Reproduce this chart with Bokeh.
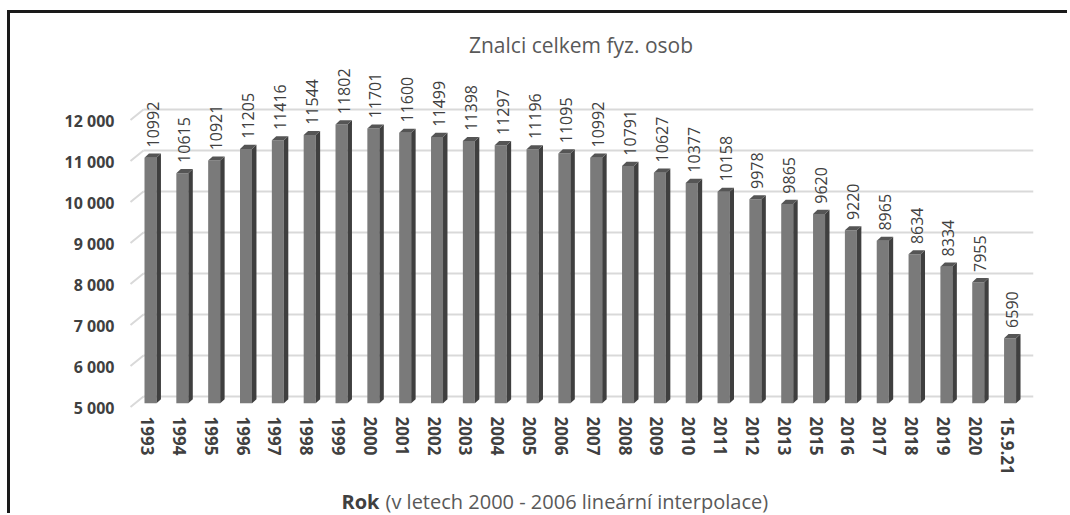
from bokeh.plotting import figure
from bokeh.models import Range1d, LinearAxis, FixedTicker
from bokeh.layouts import column
from bokeh.embed import file_html
from bokeh.resources import INLINE
from bokeh.core.properties import value

# ---- data ----
categories = ["1993", "1994", "1995", "1996", "1997", "1998", "1999", "2000",
              "2001", "2002", "2003", "2004", "2005", "2006", "2007", "2008",
              "2009", "2010", "2011", "2012", "2013", "2015", "2016", "2017",
              "2018", "2019", "2020", "15.9.21"]
counts = [10992, 10615, 10921, 11205, 11416, 11544, 11802, 11701,
          11600, 11499, 11398, 11297, 11196, 11095, 10992, 10791,
          10627, 10377, 10158, 9978, 9865, 9620, 9220, 8965,
          8634, 8334, 7955, 6590]
y_ticks = [5000, 6000, 7000, 8000, 9000, 10000, 11000, 12000]
y_tick_labels = ["5 000", "6 000", "7 000", "8 000", "9 000", "10 000", "11 000", "12 000"]

title_text = "Znalci celkem fyz. osob"
xtitle_bold = "Rok"
xtitle_rest = "(v letech 2000 - 2006 lineární interpolace)"

# ---- geometry / style constants ----
BASE = 5000
Y0, Y1 = 4850, 4850 + 349 / 0.041
X0, X1 = -0.597, 27.83
FRONT_OFF = 0.094   # front face centre offset from tick
W = 0.377           # front face width
D = 0.14            # side depth (x)
R = 100             # side rise (value units)
FONT = "Open Sans"
BORDER = "3px solid #1a1a1a"

idx = list(range(len(categories)))

p = figure(width=1060, height=474, output_backend="svg", toolbar_location=None,
           x_range=Range1d(X0, X1), y_range=Range1d(Y0, Y1),
           x_axis_location="below", y_axis_location=None,
           min_border_left=118, min_border_right=37, min_border_top=47,
           min_border_bottom=78)
p.styles = {"border-left": BORDER, "border-top": BORDER}
p.outline_line_color = None
p.background_fill_color = "white"
p.border_fill_color = "white"
p.xgrid.visible = False
p.ygrid.visible = False

# title
p.title.text = title_text
p.title.align = "center"
p.title.offset = -35
p.title.standoff = 4
p.title.text_font = FONT
p.title.text_font_size = "21px"
p.title.text_font_style = "normal"
p.title.text_color = "#595959"

# back-wall gridlines with perspective diagonals
p.segment(x0=[-0.126] * len(y_ticks), y0=[t + 165 for t in y_ticks],
          x1=[X1] * len(y_ticks), y1=[t + 165 for t in y_ticks],
          line_color="#d9d9d9", line_width=2)
p.segment(x0=[-0.534] * len(y_ticks), y0=[t - 90 for t in y_ticks],
          x1=[-0.126] * len(y_ticks), y1=[t + 165 for t in y_ticks],
          line_color="#d9d9d9", line_width=2)

# bars: front face, side face, top face
xf = [i + FRONT_OFF for i in idx]
p.vbar(x=xf, width=W, bottom=BASE, top=counts, fill_color="#7a7a7a", line_color=None)
side_xs, side_ys, top_xs, top_ys = [], [], [], []
for x, v in zip(xf, counts):
    xl, xr = x - W / 2, x + W / 2
    side_xs.append([xr, xr + D, xr + D, xr])
    side_ys.append([BASE, BASE + R, v + R, v])
    top_xs.append([xl, xr, xr + D, xl + D])
    top_ys.append([v, v, v + R, v + R])
p.patches(xs=side_xs, ys=side_ys, fill_color="#3f3f3f", line_color=None)
p.patches(xs=top_xs, ys=top_ys, fill_color="#555555", line_color=None)

# value labels
p.text(x=[i + 0.16 for i in idx], y=[v + 250 for v in counts], text=[str(v) for v in counts],
       angle=1.5708, text_align="left", text_baseline="middle",
       text_font=value(FONT), text_font_size="16px", text_color="#404040")

# x axis
xa = p.xaxis[0]
xa.ticker = FixedTicker(ticks=idx)
xa.major_label_overrides = {i: c for i, c in zip(idx, categories)}
xa.major_label_orientation = "vertical"
xa.major_label_text_font = FONT
xa.major_label_text_font_style = "bold"
xa.major_label_text_font_size = "17px"
xa.major_label_text_color = "#404040"
xa.major_label_standoff = 7
xa.major_tick_out = 0
xa.major_tick_in = 0
xa.axis_line_color = None
xa.major_tick_line_color = None
xa.minor_tick_line_color = None

# y axis on slightly shifted range (labels sit at front of the 3D floor)
p.extra_y_ranges = {"lab": Range1d(Y0 + 120, Y1 + 120)}
ya = LinearAxis(y_range_name="lab")
ya.ticker = FixedTicker(ticks=y_ticks)
ya.major_label_overrides = {t: l for t, l in zip(y_ticks, y_tick_labels)}
ya.major_label_text_font = FONT
ya.major_label_text_font_style = "bold"
ya.major_label_text_font_size = "16px"
ya.major_label_text_color = "#404040"
ya.major_label_standoff = 14
ya.major_tick_out = 0
ya.major_tick_in = 0
ya.axis_line_color = None
ya.major_tick_line_color = None
ya.minor_tick_line_color = None
p.add_layout(ya, "left")

# x-axis title strip (mixed bold / regular text on one line);
# its frame is aligned with the chart frame, so use pixel-like units across it
p2 = figure(width=1060, height=29, output_backend="svg", toolbar_location=None,
            x_range=Range1d(128, 1033), y_range=Range1d(0, 29),
            x_axis_location=None, y_axis_location=None,
            min_border_left=0, min_border_right=0, min_border_top=0, min_border_bottom=0)
p2.styles = {"border-left": BORDER}
p2.outline_line_color = None
p2.xgrid.visible = False
p2.ygrid.visible = False
p2.title.visible = False
p2.text(x=[341], y=[12], text=[xtitle_bold], text_align="left", text_baseline="alphabetic",
        text_font=value(FONT), text_font_size="20px", text_font_style="bold",
        text_color="#404040")
p2.text(x=[385], y=[12], text=[xtitle_rest], text_align="left", text_baseline="alphabetic",
        text_font=value(FONT), text_font_size="20px", text_color="#595959")

layout = column(p, p2, spacing=0)
layout.styles = {"margin-left": "7px", "margin-top": "10px"}

open("out.html", "w").write(file_html(layout, INLINE))
